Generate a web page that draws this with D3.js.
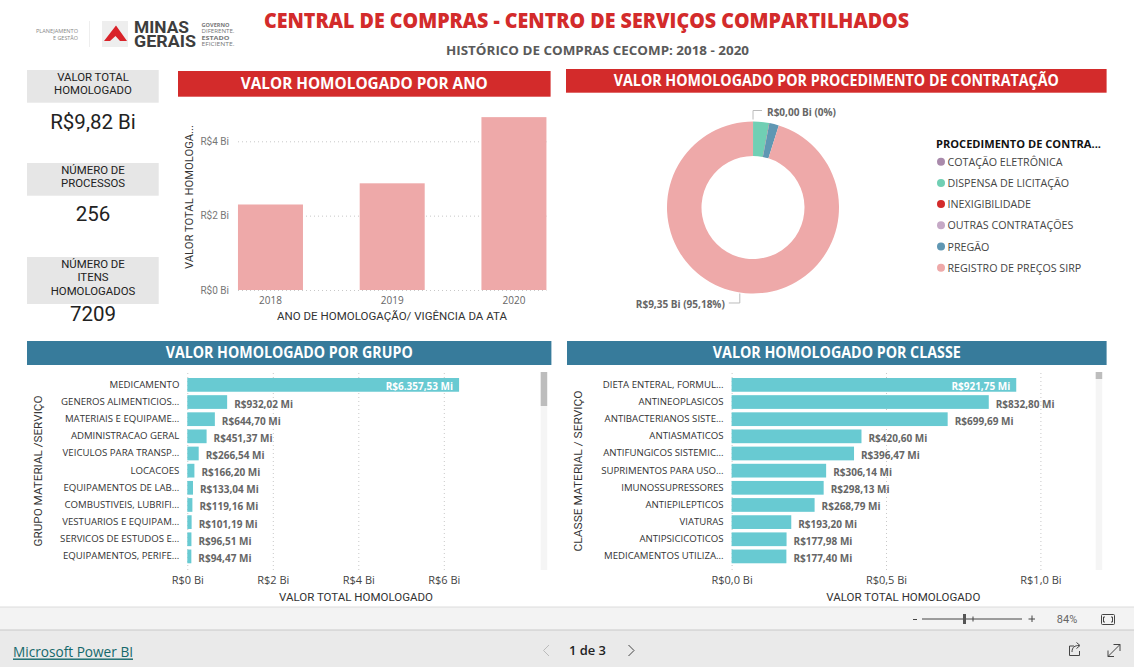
<!DOCTYPE html>
<html lang="pt-BR">
<head>
<meta charset="utf-8">
<title>Central de Compras</title>
<script src="https://cdn.jsdelivr.net/npm/d3@7"></script>
<style>
html,body{margin:0;padding:0;background:#fff;overflow:hidden}
svg{display:block}
text{font-family:"Open Sans",sans-serif}
.din{font-family:Roboto,sans-serif}
.grid line{stroke:#c8c8c8;stroke-dasharray:1 3}
.domain{display:none}
</style>
</head>
<body>
<svg id="c" width="1134" height="667"></svg>
<script>
const years = ["2018","2019","2020"];
const yearValues = [2.30,2.87,4.65];
const yearTicks = [0,2,4];

const procedures = ["COTAÇÃO ELETRÔNICA","DISPENSA DE LICITAÇÃO","INEXIGIBILIDADE","OUTRAS CONTRATAÇÕES","PREGÃO","REGISTRO DE PREÇOS SIRP"];
const procedureValues = [0.001,0.295,0.004,0.001,0.175,9.35];
const procedureColors = ["#a98aab","#70cfb4","#d32b2b","#c5a9c6","#5f97b3","#eea9a9"];

const groups = ["MEDICAMENTO","GENEROS ALIMENTICIOS...","MATERIAIS E EQUIPAME...","ADMINISTRACAO GERAL","VEICULOS PARA TRANSP...","LOCACOES","EQUIPAMENTOS DE LAB...","COMBUSTIVEIS, LUBRIFI...","VESTUARIOS E EQUIPAM...","SERVICOS DE ESTUDOS E...","EQUIPAMENTOS, PERIFE..."];
const groupValues = [6357.53,932.02,644.70,451.37,266.54,166.20,133.04,119.16,101.19,96.51,94.47];
const groupTicks = [0,2,4,6];

const classes = ["DIETA ENTERAL, FORMUL...","ANTINEOPLASICOS","ANTIBACTERIANOS SISTE...","ANTIASMATICOS","ANTIFUNGICOS SISTEMIC...","SUPRIMENTOS PARA USO...","IMUNOSSUPRESSORES","ANTIEPILEPTICOS","VIATURAS","ANTIPSICICOTICOS","MEDICAMENTOS UTILIZA..."];
const classValues = [921.75,832.80,699.69,420.60,396.47,306.14,298.13,268.79,193.20,177.98,177.40];
const classTicks = [0,0.5,1];

const kpiLabels = [["VALOR TOTAL","HOMOLOGADO"],["NÚMERO DE","PROCESSOS"],["NÚMERO DE","ITENS","HOMOLOGADOS"]];
const kpiValues = ["R$9,82 Bi","256","7209"];

const RED="#d32b2b", TEAL="#377b9b", CYAN="#68cad2", PINK="#eea9a9";
const svg=d3.select("#c");
const ptBR=d3.formatLocale({decimal:",",thousands:".",grouping:[3],currency:["R$",""]});
const fmtMi=v=>ptBR.format("$,.2f")(v)+" Mi";
const fmtBi0=v=>ptBR.format("$,.0f")(v)+" Bi";
const fmtBi1=v=>ptBR.format("$,.1f")(v)+" Bi";

function label(x,y,str,o={}){
  const t=svg.append("text").attr("x",x).attr("y",y).text(str)
    .attr("dominant-baseline","central")
    .attr("text-anchor",o.anchor||"start")
    .attr("font-size",o.size||11)
    .attr("font-weight",o.weight||400)
    .attr("fill",o.fill||"#333");
  if(o.din) t.attr("class","din");
  if(o.len) t.attr("textLength",o.len).attr("lengthAdjust","spacingAndGlyphs");
  if(o.rot) t.attr("transform",`rotate(-90 ${x} ${y})`);
  if(o.ls) t.attr("letter-spacing",o.ls);
  return t;
}
function banner(x0,x1,y0,y1,color,str,len){
  svg.append("rect").attr("x",x0).attr("y",y0).attr("width",x1-x0).attr("height",y1-y0).attr("fill",color);
  label((x0+x1)/2,(y0+y1)/2-1.2,str,{anchor:"middle",size:15.5,weight:700,fill:"#fff",len});
}

/* header */
label(586.5,20,"CENTRAL DE COMPRAS - CENTRO DE SERVIÇOS COMPARTILHADOS",{anchor:"middle",size:21,weight:800,fill:RED,len:645});
label(597.5,50,"HISTÓRICO DE COMPRAS CECOMP: 2018 - 2020",{anchor:"middle",size:13,weight:700,fill:"#5a5a5a",len:303});

/* logo */
label(78,30.5,"PLANEJAMENTO",{anchor:"end",size:5.5,fill:"#888",len:42});
label(78,37.5,"E GESTÃO",{anchor:"end",size:5.5,fill:"#888",len:25});
svg.append("line").attr("x1",89.5).attr("x2",89.5).attr("y1",21).attr("y2",47).attr("stroke","#eee");
svg.append("rect").attr("x",102).attr("y",21).attr("width",26).attr("height",26).attr("fill","#eeeeee");
svg.append("path").attr("d","M104 41L116 25.5L127 41L120 41L115.5 36L110 41Z").attr("fill","#d9232a");
label(134,27,"MINAS",{size:16.5,weight:700,fill:"#3d3d3d",din:true,len:55});
label(134,41,"GERAIS",{size:16.5,weight:700,fill:"#3d3d3d",din:true,len:62});
["GOVERNO","DIFERENTE.","ESTADO","EFICIENTE."].forEach((s,i)=>label(201.5,24.5+i*6.5,s,{size:4.8,weight:i%2?400:700,fill:"#777",len:i%2?33:28}));

/* KPI cards */
const kpiBoxes=[[70,102.7],[163,195.7],[257,304]];
const kpiLineY=[[77,89.7],[170,182.7],[264,277,290.7]];
const kpiValueY=[121.7,213.5,313.5];
kpiLabels.forEach((lines,i)=>{
  svg.append("rect").attr("x",27).attr("y",kpiBoxes[i][0]).attr("width",131.7).attr("height",kpiBoxes[i][1]-kpiBoxes[i][0]).attr("fill","#e6e6e6");
  lines.forEach((s,j)=>label(93,kpiLineY[i][j],s,{anchor:"middle",size:11.4,din:true,fill:"#222"}));
  label(93,kpiValueY[i],kpiValues[i],{anchor:"middle",size:20.5,din:true,fill:"#222"});
});

/* banners */
banner(178,550.6,71,96.7,RED,"VALOR HOMOLOGADO POR ANO",247);
banner(566,1106.6,69,92.7,RED,"VALOR HOMOLOGADO POR PROCEDIMENTO DE CONTRATAÇÃO",445);
banner(27,551.4,341,365,TEAL,"VALOR HOMOLOGADO POR GRUPO",247);
banner(567,1106.6,341,365,TEAL,"VALOR HOMOLOGADO POR CLASSE",248);

/* year columns */
const xYear=d3.scaleBand().domain(years).range([209.6,574.8]).paddingInner(.466).paddingOuter(.233);
const yYear=d3.scaleLinear().domain([0,4]).range([290,141.3]);
const gy=svg.append("g").attr("class","grid").attr("transform","translate(238,0)")
  .call(d3.axisLeft(yYear).tickValues(yearTicks).tickFormat(fmtBi0).tickSize(-308.5).tickPadding(9));
gy.selectAll("text").attr("class","din").attr("font-size",10).attr("fill","#777").attr("font-family","Roboto,sans-serif");
svg.append("g").selectAll("rect").data(years).join("rect")
  .attr("x",d=>xYear(d)).attr("width",xYear.bandwidth())
  .attr("y",(d,i)=>yYear(yearValues[i])).attr("height",(d,i)=>yYear(0)-yYear(yearValues[i]))
  .attr("fill",PINK);
const gx=svg.append("g").attr("transform","translate(0,290)")
  .call(d3.axisBottom(xYear).tickSize(0).tickPadding(6.5));
gx.selectAll("text").attr("font-size",10).attr("fill","#666").attr("font-family","Roboto,sans-serif");
label(392,316.7,"ANO DE HOMOLOGAÇÃO/ VIGÊNCIA DA ATA",{anchor:"middle",size:11,din:true,len:230,fill:"#333"});
label(189,197,"VALOR TOTAL HOMOLOGA...",{anchor:"middle",size:11,din:true,rot:true,len:144,fill:"#333"});

/* donut */
const cx=753, cy=207.5, R=86, r0=51.5;
const pie=d3.pie().sort(null)(procedureValues);
const arc=d3.arc().innerRadius(r0).outerRadius(R);
const gd=svg.append("g").attr("transform",`translate(${cx},${cy})`);
gd.selectAll("path").data(pie).join("path").attr("d",arc).attr("fill",(d,i)=>procedureColors[i]);
const mid=d=>(d.startAngle+d.endAngle)/2;
const onR=(d,rad)=>[cx+rad*Math.sin(mid(d)),cy-rad*Math.cos(mid(d))];
const topA=onR(pie[0],R+2), botA=onR(pie[5],R+1);
const leader=svg.append("g").attr("fill","none").attr("stroke","#bbb");
leader.append("path").attr("d",`M${topA[0]} ${topA[1]}V${topA[1]-9}H${topA[0]+9}`);
leader.append("path").attr("d",`M${botA[0]} ${botA[1]}V${botA[1]+9.5}H${botA[0]-11}`);
label(topA[0]+14,topA[1]-7.5,"R$0,00 Bi (0%)",{size:10,weight:700,fill:"#666",len:69});
label(botA[0]-15,botA[1]+10.5,"R$9,35 Bi (95,18%)",{anchor:"end",size:10,weight:700,fill:"#666",len:89});

/* legend */
label(936,143,"PROCEDIMENTO DE CONTRA...",{size:11,weight:700,fill:"#111",len:165});
const yLeg=d3.scalePoint().domain(procedures).range([161.7,267.7]);
const lg=svg.append("g");
lg.selectAll("circle").data(procedures).join("circle")
  .attr("cx",941).attr("cy",d=>yLeg(d)).attr("r",4).attr("fill",(d,i)=>procedureColors[i]);
procedures.forEach(p=>label(947.5,yLeg(p),p,{size:10.7,fill:"#444"}));

/* horizontal bars */
function hbars(o){
  const y=d3.scaleBand().domain(o.cats).range([376.3,565]).paddingInner(.2).paddingOuter(.1);
  const x=d3.scaleLinear().domain(o.domain).range(o.range);
  const g=svg.append("g");
  const ga=g.append("g").attr("class","grid").attr("transform","translate(0,570)")
    .call(d3.axisBottom(x).tickValues(o.ticks).tickFormat(o.fmt).tickSize(-198).tickPadding(6));
  ga.selectAll("text").attr("font-size",11).attr("fill","#444").attr("font-family","Roboto,sans-serif");
  g.selectAll("rect.bar").data(o.values).join("rect").attr("class","bar")
    .attr("x",x(0)).attr("y",(d,i)=>y(o.cats[i])).attr("height",y.bandwidth())
    .attr("width",d=>x(d/1000)-x(0)).attr("fill",CYAN);
  o.cats.forEach((c,i)=>label(o.labelX,y(c)+y.bandwidth()/2-.5,c,{anchor:"end",size:9.65,fill:"#333"}));
  o.values.forEach((v,i)=>{
    const yy=y(o.cats[i])+y.bandwidth()/2+1.5;
    if(i===0) label(x(v/1000)-6,yy,fmtMi(v),{anchor:"end",size:10,weight:700,fill:"#fff"});
    else label(x(v/1000)+7,yy,fmtMi(v),{size:10,weight:700,fill:"#666"});
  });
  svg.append("rect").attr("x",o.sb).attr("y",372).attr("width",6.5).attr("height",198).attr("fill","#f5f5f5");
  svg.append("rect").attr("x",o.sb).attr("y",372).attr("width",6.5).attr("height",o.thumb).attr("fill","#bdbdbd");
  label(o.titleX,597,"VALOR TOTAL HOMOLOGADO",{anchor:"middle",size:11,din:true,len:154,fill:"#333"});
  label(o.yX,471,o.yTitle,{anchor:"middle",size:11,din:true,rot:true,len:o.yLen,fill:"#333"});
}
hbars({cats:groups,values:groupValues,domain:[0,6],range:[187.3,443.8],ticks:groupTicks,fmt:fmtBi0,labelX:179.4,sb:540.7,thumb:34,titleX:356,yX:38,yTitle:"GRUPO MATERIAL /SERVIÇO",yLen:151});
hbars({cats:classes,values:classValues,domain:[0,1],range:[731.6,1040.4],ticks:classTicks,fmt:fmtBi1,labelX:723.6,sb:1095.7,thumb:7,titleX:903.3,yX:578,yTitle:"CLASSE MATERIAL / SERVIÇO",yLen:161});

/* footer */
svg.append("rect").attr("x",0).attr("y",607).attr("width",1134).attr("height",23).attr("fill","#f3f3f3");
svg.append("line").attr("x1",0).attr("x2",1134).attr("y1",607).attr("y2",607).attr("stroke","#dcdcdc");
svg.append("rect").attr("x",0).attr("y",630).attr("width",1134).attr("height",37).attr("fill","#eaeaea");
svg.append("line").attr("x1",0).attr("x2",1134).attr("y1",630).attr("y2",630).attr("stroke","#c8c8c8");
label(13,651,"Microsoft Power BI",{size:14,fill:"#14686b",len:120}).attr("text-decoration","underline");
label(587.5,650,"1 de 3",{anchor:"middle",size:13,weight:600,fill:"#222",len:37});
const ic=svg.append("g").attr("fill","none").attr("stroke","#444");
ic.append("path").attr("d","M549 645L543.5 650.5L549 656").attr("stroke","#bbb");
ic.append("path").attr("d","M628.5 645L634 650.5L628.5 656");
ic.append("path").attr("d","M922 619H1022");
ic.append("rect").attr("x",963).attr("y",614).attr("width",3).attr("height",10).attr("fill","#555").attr("stroke","none");
ic.append("path").attr("d","M973 616.5V621.5");
ic.append("path").attr("d","M913 619.5H917");
ic.append("path").attr("d","M1028.5 619H1035M1032 615.5V622");
label(1067,619,"84%",{anchor:"middle",size:11,fill:"#666",din:true});
ic.append("rect").attr("x",1101.5).attr("y",614.5).attr("width",13).attr("height",10).attr("rx",1);
ic.append("path").attr("d","M1105 617H1103.5V622H1105M1111 617H1112.5V622H1111");
ic.append("path").attr("d","M1074 646H1069.5V655.5H1079.5V651M1072 652C1072 647 1075 645.5 1079 645.5M1076.5 642.5L1080 645.5L1076.5 648.5");
ic.append("path").attr("d","M1108 656.5L1120 644.5M1113.5 644.5H1120V651M1108 650.5V656.5H1114");
</script>
</body>
</html>
